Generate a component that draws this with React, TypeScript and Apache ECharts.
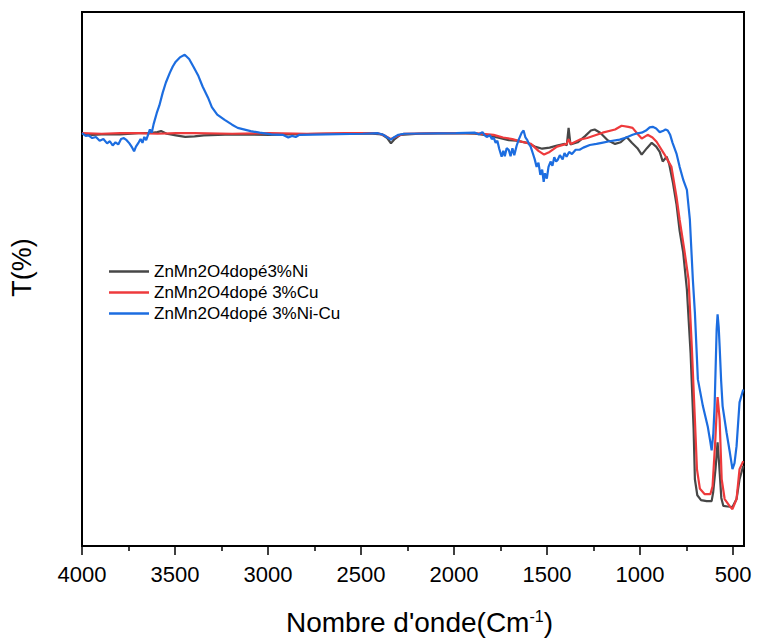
import React, { useEffect, useRef } from "react";
import * as echarts from "echarts";

// FTIR transmittance spectra: [wavenumber (cm-1), T (%)]
const niSpectrum: [number, number][] = [
  [4000, 77.2], [3945, 77.0], [3895, 77.1], [3795, 77.1], [3695, 77.3], [3645, 77.3], [3595, 77.5], [3575, 77.7],
  [3545, 77.2], [3495, 76.9], [3445, 76.6], [3395, 76.7], [3345, 76.9], [3193, 77.1], [2992, 77.0], [2891, 77.1],
  [2690, 77.2], [2439, 77.2], [2389, 77.1], [2359, 76.4], [2339, 75.4], [2319, 76.2], [2289, 77.0], [2188, 77.2],
  [1988, 77.3], [1887, 77.2], [1837, 77.0], [1767, 76.5], [1706, 76.0], [1666, 75.9], [1606, 75.5], [1566, 74.8],
  [1526, 74.4], [1486, 74.6], [1446, 75.0], [1405, 75.3], [1394, 75.0], [1384, 78.3], [1374, 75.2], [1335, 75.6],
  [1294, 76.8], [1264, 77.8], [1244, 78.0], [1214, 77.4], [1174, 76.0], [1134, 75.3], [1104, 75.6], [1072, 76.6],
  [1044, 75.5], [1014, 74.5], [991, 73.3], [963, 74.5], [937, 75.5], [913, 74.8], [894, 73.8], [878, 72.0],
  [857, 72.9], [843, 71.5], [823, 68.0], [804, 64.0], [787, 59.0], [768, 55.0], [748, 48.0], [728, 36.0],
  [712, 22.0], [705, 12.5], [692, 9.5], [672, 8.6], [642, 8.4], [615, 8.4], [607, 10.0], [594, 14.5],
  [583, 19.4], [574, 15.0], [563, 9.0], [552, 7.5], [529, 7.4], [503, 7.3], [481, 8.8], [465, 12.5], [445, 15.0],
];

const cuSpectrum: [number, number][] = [
  [4000, 77.3], [3895, 77.2], [3795, 77.3], [3695, 77.3], [3595, 77.2], [3495, 77.3], [3395, 77.3], [3193, 77.2],
  [2992, 77.3], [2791, 77.2], [2590, 77.3], [2409, 77.3], [2369, 76.8], [2339, 76.2], [2309, 76.7], [2269, 77.2],
  [2089, 77.3], [1887, 77.3], [1787, 77.0], [1736, 76.5], [1686, 76.2], [1636, 75.7], [1586, 75.3], [1546, 74.0],
  [1516, 73.3], [1486, 73.8], [1446, 74.8], [1405, 75.2], [1394, 75.3], [1384, 76.2], [1372, 75.3], [1325, 76.1],
  [1284, 76.4], [1201, 77.4], [1134, 78.0], [1099, 78.7], [1063, 78.5], [1040, 78.3], [1014, 77.2], [991, 76.3],
  [959, 77.0], [933, 76.5], [911, 75.7], [868, 73.3], [831, 71.0], [804, 65.4], [787, 61.1], [762, 55.5],
  [739, 49.9], [721, 36.8], [705, 23.7], [694, 14.4], [678, 10.7], [652, 9.7], [622, 9.7], [610, 11.2],
  [595, 20.0], [588, 25.0], [583, 27.9], [572, 23.7], [561, 12.5], [545, 8.8], [519, 7.5], [503, 6.9],
  [481, 8.8], [465, 14.4], [445, 15.9],
];

const niCuSpectrum: [number, number][] = [
  [4000, 77.3], [3980, 76.8], [3965, 76.9], [3945, 76.4], [3925, 76.6], [3905, 75.9], [3885, 76.2], [3865, 75.4],
  [3850, 75.8], [3835, 75.0], [3820, 75.6], [3805, 75.2], [3790, 76.2], [3775, 76.4], [3760, 76.0], [3745, 75.4],
  [3730, 74.6], [3720, 73.9], [3710, 74.8], [3695, 75.6], [3685, 76.2], [3675, 75.5], [3665, 76.6], [3655, 76.0],
  [3645, 77.0], [3635, 78.0], [3625, 77.4], [3615, 79.0], [3598, 81.1], [3584, 82.5], [3566, 84.9], [3549, 86.8],
  [3528, 88.6], [3512, 89.8], [3496, 90.7], [3474, 91.5], [3448, 92.0], [3424, 91.2], [3400, 89.7], [3374, 88.0],
  [3351, 86.0], [3323, 84.0], [3302, 82.2], [3273, 80.8], [3233, 79.8], [3193, 78.9], [3163, 78.3], [3093, 77.7],
  [3045, 77.4], [2982, 77.1], [2921, 77.0], [2891, 76.5], [2871, 76.8], [2851, 76.6], [2831, 77.0], [2690, 77.1],
  [2490, 77.2], [2409, 77.3], [2379, 77.0], [2354, 76.4], [2339, 76.1], [2324, 76.5], [2299, 77.0], [2269, 77.2],
  [1988, 77.3], [1887, 77.4], [1867, 77.1], [1847, 77.5], [1837, 77.0], [1824, 76.6], [1807, 76.9], [1797, 76.2],
  [1787, 76.5], [1776, 75.5], [1767, 75.9], [1757, 74.4], [1744, 72.9], [1735, 74.0], [1727, 73.0], [1717, 74.5],
  [1706, 74.2], [1696, 73.0], [1686, 74.5], [1676, 73.2], [1663, 75.0], [1651, 76.2], [1636, 77.4], [1626, 77.8],
  [1616, 76.5], [1606, 76.0], [1596, 75.2], [1588, 74.8], [1576, 73.5], [1566, 72.4], [1556, 71.0], [1546, 71.8],
  [1536, 69.5], [1526, 70.5], [1518, 68.2], [1511, 69.8], [1501, 68.8], [1492, 71.0], [1481, 72.0], [1471, 71.2],
  [1461, 72.8], [1451, 72.0], [1443, 72.3], [1431, 73.2], [1416, 72.4], [1406, 73.6], [1395, 72.9], [1381, 73.8],
  [1366, 73.4], [1346, 74.2], [1325, 74.2], [1305, 74.6], [1270, 75.1], [1234, 75.3], [1206, 75.5], [1164, 75.8],
  [1109, 76.1], [1074, 76.5], [1040, 77.0], [1014, 77.3], [991, 77.4], [968, 77.8], [948, 78.4], [932, 78.5],
  [913, 78.2], [894, 77.5], [878, 77.7], [863, 78.0], [851, 77.8], [838, 77.0], [825, 75.5], [804, 73.5],
  [787, 71.0], [767, 68.5], [748, 66.7], [732, 61.1], [716, 49.9], [705, 43.7], [689, 31.2], [662, 26.2],
  [636, 22.4], [622, 19.5], [615, 17.9], [606, 21.0], [599, 26.2], [588, 40.6], [583, 43.4], [577, 41.0],
  [572, 37.4], [564, 31.0], [556, 26.2], [535, 21.3], [517, 17.5], [503, 14.4], [492, 15.5], [481, 18.7],
  [465, 26.9], [445, 29.3],
];

const seriesNames = ["ZnMn2O4dopé3%Ni", "ZnMn2O4dopé 3%Cu", "ZnMn2O4dopé 3%Ni-Cu"];
const seriesColors = ["#474747", "#ee3a3c", "#1c6de0"];
const majorTicks = [4000, 3500, 3000, 2500, 2000, 1500, 1000, 500];
const minorTicks = [3750, 3250, 2750, 2250, 1750, 1250, 750];

const FONT = 'Arial, "Liberation Sans", Helvetica, sans-serif';

export default function App() {
  const ref = useRef<HTMLDivElement>(null);

  useEffect(() => {
    if (!ref.current) return;
    const chart = echarts.init(ref.current, undefined, { renderer: "svg" });
    const spectra = [niSpectrum, cuSpectrum, niCuSpectrum];

    chart.setOption({
      animation: false,
      backgroundColor: "#fff",
      grid: {
        left: 82,
        right: 13,
        top: 12,
        bottom: 94,
        show: true,
        borderColor: "#000",
        borderWidth: 2,
        outerBoundsMode: "none",
        containLabel: false,
      },
      legend: {
        orient: "vertical",
        left: 104,
        top: 258,
        padding: 5,
        icon: "rect",
        itemWidth: 40,
        itemHeight: 2.5,
        itemGap: 4,
        data: seriesNames,
        textStyle: { fontSize: 17, color: "#000", fontFamily: FONT },
      },
      xAxis: [
        {
          type: "value",
          inverse: true,
          min: 441,
          max: 4000,
          name: "{a|Nombre d'onde(Cm}{b|-1}{a|)}",
          nameLocation: "middle",
          nameGap: 62,
          nameTextStyle: {
            padding: [0, 0, 0, 13],
            rich: {
              a: { fontSize: 28, color: "#000", fontFamily: FONT },
              b: { fontSize: 16, color: "#000", fontFamily: FONT, verticalAlign: "top" },
            },
          },
          axisLine: { show: true, onZero: false, lineStyle: { color: "#000", width: 2 } },
          axisTick: {
            show: true,
            length: 9,
            customValues: majorTicks,
            lineStyle: { color: "#000", width: 1.5 },
          },
          axisLabel: {
            show: true,
            customValues: majorTicks,
            formatter: (v: number) => String(v),
            margin: 17,
            fontSize: 22,
            color: "#000",
            fontFamily: FONT,
            showMinLabel: true,
            showMaxLabel: true,
          },
          splitLine: { show: false },
        },
        {
          type: "value",
          inverse: true,
          min: 441,
          max: 4000,
          position: "bottom",
          axisLine: { show: false },
          axisLabel: { show: false },
          splitLine: { show: false },
          axisTick: {
            show: true,
            length: 5,
            customValues: minorTicks,
            lineStyle: { color: "#000", width: 1.5 },
          },
        },
      ],
      yAxis: {
        type: "value",
        min: 0,
        max: 100,
        name: "T(%)",
        nameLocation: "middle",
        nameGap: 47,
        nameTextStyle: {
          fontSize: 27,
          color: "#000",
          fontFamily: FONT,
          padding: [0, 0, 0, 23],
        },
        axisLine: { show: true, onZero: false, lineStyle: { color: "#000", width: 2 } },
        axisTick: { show: false },
        axisLabel: { show: false },
        splitLine: { show: false },
      },
      series: spectra.map((data, i) => ({
        name: seriesNames[i],
        type: "line",
        xAxisIndex: 0,
        data,
        showSymbol: false,
        symbol: "none",
        color: seriesColors[i],
        lineStyle: { color: seriesColors[i], width: 2.2 },
        z: 2 + i,
      })),
    });

    return () => chart.dispose();
  }, []);

  return (
    <div
      ref={ref}
      style={{ position: "fixed", left: 0, top: 0, width: 757, height: 640 }}
    />
  );
}
